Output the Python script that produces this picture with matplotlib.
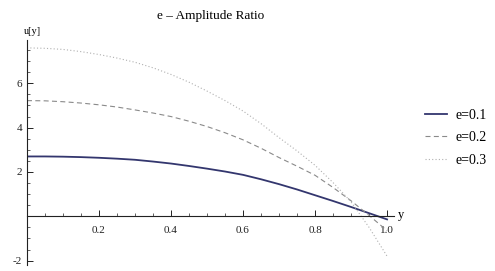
import numpy as np
import matplotlib.pyplot as plt
from matplotlib.ticker import MultipleLocator, FixedLocator

# values, y from 0 to 1 in steps of 0.05
y_vals = [0.0, 0.05, 0.1, 0.15, 0.2, 0.25, 0.3, 0.35, 0.4, 0.45, 0.5,
          0.55, 0.6, 0.65, 0.7, 0.75, 0.8, 0.85, 0.9, 0.95, 1.0]
u_e01 = [2.70, 2.70, 2.69, 2.67, 2.64, 2.60, 2.55, 2.47, 2.38, 2.27, 2.15,
         2.02, 1.87, 1.67, 1.45, 1.21, 0.95, 0.69, 0.42, 0.14, -0.14]
u_e02 = [5.22, 5.21, 5.17, 5.11, 5.03, 4.93, 4.80, 4.66, 4.50, 4.29, 4.05,
         3.77, 3.45, 3.07, 2.65, 2.26, 1.85, 1.30, 0.70, 0.04, -0.65]
u_e03 = [7.60, 7.58, 7.53, 7.43, 7.30, 7.14, 6.95, 6.70, 6.40, 6.05, 5.65,
         5.22, 4.75, 4.18, 3.55, 2.95, 2.30, 1.52, 0.65, -0.50, -1.80]
labels = ['e=0.1', 'e=0.2', 'e=0.3']
x_ticks = [0.2, 0.4, 0.6, 0.8, 1.0]
y_ticks = [-2, 2, 4, 6]

plt.rcParams['font.family'] = ['Liberation Serif', 'DejaVu Serif']

fig = plt.figure(figsize=(4.95, 2.71), dpi=100)
ax = fig.add_axes([0.0545, 0.022, 0.742, 0.830])

l1, = ax.plot(y_vals, u_e01, color='#33366e', lw=1.3, label=labels[0])
l2, = ax.plot(y_vals, u_e02, color='#8a8a8a', lw=0.8, ls=(0, (4.5, 3)), label=labels[1])
l3, = ax.plot(y_vals, u_e03, color='#b0b0b0', lw=0.8, ls=(0, (1, 2)), label=labels[2])

ax.set_xlim(0, 1.02)
ax.set_ylim(-2.2, 7.95)

ax.spines['top'].set_visible(False)
ax.spines['right'].set_visible(False)
ax.spines['bottom'].set_position(('data', 0))
ax.spines['left'].set_position(('data', 0))
for s in ['bottom', 'left']:
    ax.spines[s].set_linewidth(0.8)
    ax.spines[s].set_color('#222222')

ax.xaxis.set_major_locator(FixedLocator(x_ticks))
ax.xaxis.set_minor_locator(MultipleLocator(0.05))
ax.yaxis.set_major_locator(FixedLocator(y_ticks))
ax.yaxis.set_minor_locator(MultipleLocator(0.5))
ax.set_xticklabels(['%.1f' % t for t in x_ticks])
ax.set_yticklabels(['%d' % t for t in y_ticks])
ax.tick_params(which='major', direction='in', length=4, width=0.7, labelsize=8, colors='#222222')
ax.tick_params(which='minor', direction='in', length=2, width=0.5, colors='#222222')
ax.tick_params(axis='x', pad=7)

ax.set_title('e \u2013 Amplitude Ratio', fontsize=9.5, pad=15)
ax.text(-0.01, 8.15, 'u[y]', fontsize=7.5, ha='left', va='bottom')
ax.text(1.03, -0.2, 'y', fontsize=9, ha='left', va='bottom')

fig.legend(handles=[l1, l2, l3], loc='center left', bbox_to_anchor=(0.833, 0.492),
           frameon=False, fontsize=10, handlelength=1.6, labelspacing=0.69,
           handletextpad=0.58)

fig.savefig('out.png', dpi=100)
